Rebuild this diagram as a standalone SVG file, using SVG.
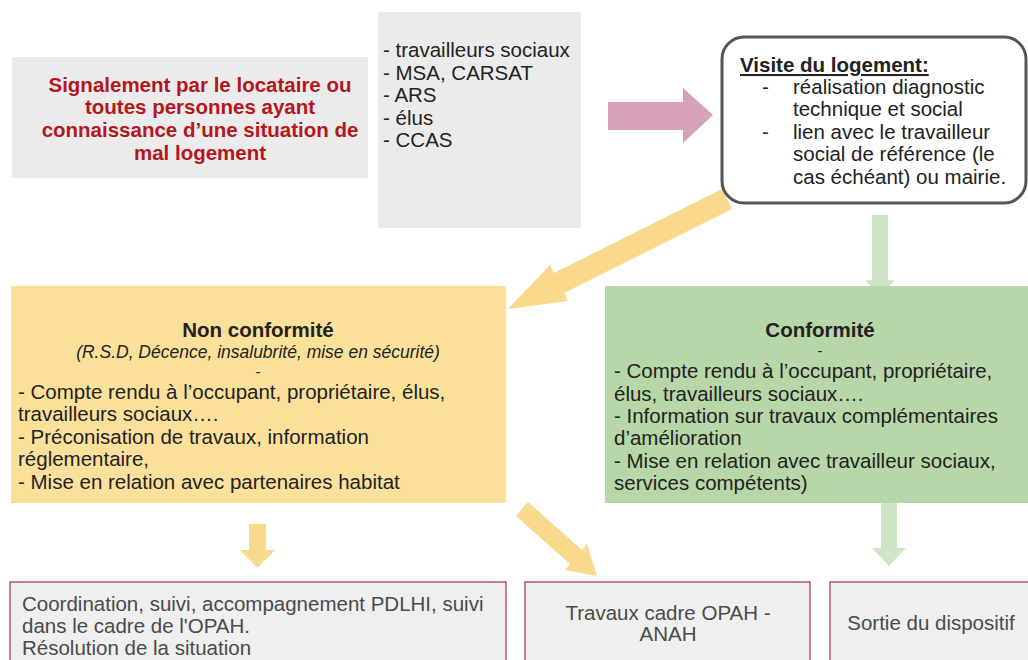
<svg xmlns="http://www.w3.org/2000/svg" width="1028" height="660" viewBox="0 0 1028 660">
<style>
text{font-family:"Liberation Sans",Arial,sans-serif;font-size:20.5px;fill:#222}
.b{font-weight:bold}
.red{fill:#b5161c}
.mid{text-anchor:middle}
.it{font-style:italic;font-size:17.5px}
.gray{fill:#ebebeb}
.bot{fill:#efefef;stroke:#a0405e;stroke-width:1.3}
.bt{fill:#4a4a4a}
.ya{fill:#f9d98b}
.ga{fill:#d0e4c6}
</style>
<rect width="1028" height="660" fill="#fff"/>
<g id="connectors">
<polygon fill="#d5a2b8" points="608,102 683,102 683,88 713,115 683,143 683,130 608,130"/>
<polygon class="ya" points="722,189 732,209 564,293 568,301 508,309 550,265 554,273"/>
<polygon class="ga" points="872,215 888,215 888,280 895,280 880,296 865,280 872,280"/>
<polygon class="ya" points="249,524 266,524 266,550 275,550 257.5,568 240,550 249,550"/>
<polygon class="ya" points="528,502 582,550 587,544 597,576 565,570 570,564 516,516"/>
<polygon class="ga" points="881,497 897,497 897,548 906,548 889,566 872,548 881,548"/>
</g>
<g id="signalement">
<rect class="gray" x="12" y="57" width="356" height="121"/>
<text class="b red mid" x="200" y="92">Signalement par le locataire ou</text>
<text class="b red mid" x="200" y="114">toutes personnes ayant</text>
<text class="b red mid" x="200" y="137">connaissance d’une situation de</text>
<text class="b red mid" x="200" y="160">mal logement</text>
</g>
<g id="acteurs">
<rect class="gray" x="378" y="12" width="203" height="216"/>
<text x="383" y="57">- travailleurs sociaux</text>
<text x="383" y="80">- MSA, CARSAT</text>
<text x="383" y="102">- ARS</text>
<text x="383" y="125">- élus</text>
<text x="383" y="147">- CCAS</text>
</g>
<g id="visite">
<rect x="722" y="37" width="304" height="166" rx="22" fill="#fff" stroke="#555" stroke-width="3"/>
<text class="b" x="740" y="72" text-decoration="underline">Visite du logement:</text>
<text x="762" y="94">-</text>
<text x="793" y="94">réalisation diagnostic</text>
<text x="793" y="116">technique et social</text>
<text x="762" y="139">-</text>
<text x="793" y="139">lien avec le travailleur</text>
<text x="793" y="161">social de référence (le</text>
<text x="793" y="184">cas échéant) ou mairie.</text>
</g>
<g id="non-conformite">
<rect x="11" y="286" width="495" height="217" fill="#fbe09b"/>
<text class="b mid" x="258" y="337">Non conformité</text>
<text class="it mid" x="258" y="358">(R.S.D, Décence, insalubrité, mise en sécurité)</text>
<text class="mid" x="258" y="377" style="font-size:15px">-</text>
<text x="18" y="399">- Compte rendu à l’occupant, propriétaire, élus,</text>
<text x="18" y="421">travailleurs sociaux….</text>
<text x="18" y="444">- Préconisation de travaux, information</text>
<text x="18" y="466">réglementaire,</text>
<text x="18" y="489">- Mise en relation avec partenaires habitat</text>
</g>
<g id="conformite">
<rect x="605" y="286" width="423" height="217" fill="#b7d7a8"/>
<text class="b mid" x="820" y="337">Conformité</text>
<text class="mid" x="820" y="356" style="font-size:15px">-</text>
<text x="614" y="378">- Compte rendu à l’occupant, propriétaire,</text>
<text x="614" y="401">élus, travailleurs sociaux….</text>
<text x="614" y="423">- Information sur travaux complémentaires</text>
<text x="614" y="445">d’amélioration</text>
<text x="614" y="468">- Mise en relation avec travailleur sociaux,</text>
<text x="614" y="490">services compétents)</text>
</g>
<g id="suivi">
<rect class="bot" x="10" y="582" width="496" height="90"/>
<text class="bt" x="22" y="611">Coordination, suivi, accompagnement PDLHI, suivi</text>
<text class="bt" x="22" y="633">dans le cadre de l'OPAH.</text>
<text class="bt" x="22" y="655">Résolution de la situation</text>
</g>
<g id="travaux">
<rect class="bot" x="525" y="582" width="285" height="90"/>
<text class="bt mid" x="668" y="620">Travaux cadre OPAH -</text>
<text class="bt mid" x="668" y="641">ANAH</text>
</g>
<g id="sortie">
<rect class="bot" x="830" y="582" width="210" height="90"/>
<text class="bt mid" x="931" y="630">Sortie du dispositif</text>
</g>
</svg>
